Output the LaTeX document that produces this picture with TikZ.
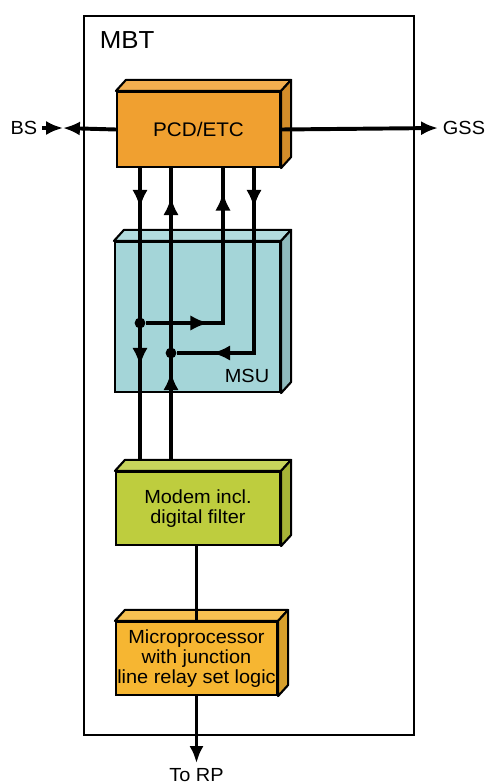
\documentclass[tikz,border=0pt]{standalone}
\usepackage{fontspec}
\setmainfont[FakeStretch=1.05]{Liberation Sans}
\usetikzlibrary{arrows.meta,decorations.markings}
\definecolor{pcdorange}{RGB}{240,160,48}
\definecolor{msublue}{RGB}{164,213,216}
\definecolor{modemgreen}{RGB}{190,205,62}
\definecolor{cpuyellow}{RGB}{246,182,50}
\newcommand{\solidbox}[2]{%
\draw[line width=1.5pt,line join=round,fill=#2!85!white] (#1.north west) -- ([shift={(10,-11)}]#1.north west)
	-- ([shift={(10,-11)}]#1.north east) -- (#1.north east) -- cycle;
\draw[line width=1.5pt,line join=round,fill=#2!88!black] (#1.north east) -- ([shift={(10,-11)}]#1.north east)
	-- ([shift={(10,-11)}]#1.south east) -- (#1.south east) -- cycle;}

\begin{document}
\begin{tikzpicture}[x=0.025cm,y=-0.025cm,
	block/.style={draw,line width=1.5pt,inner sep=0pt,align=center,font=\fontsize{13.5}{14.2}\selectfont},
	sig/.style={line width=2.8pt},
	sigarrow/.style={sig,-{Latex[length=12pt,width=10pt]}},
	midtips/.style 2 args={decoration={markings,
		mark=at position #1 with {\arrow{Latex[length=13pt,width=11pt]}},
		mark=at position #2 with {\arrow{Latex[length=13pt,width=11pt]}}},postaction={decorate}},
	dot/.style={circle,fill,inner sep=0pt,minimum size=0.27cm},
	lbl/.style={font=\fontsize{13.5}{14.2}\selectfont}]
\useasboundingbox (0,0) rectangle (486,783);
\draw[line width=1.1pt] (84,16) rectangle (414,735);
\node(MBT) [anchor=west,font=\fontsize{17.5}{18}\selectfont] at (95,40) {MBT};

\node(MSU) [block,fill=msublue,minimum width=4.125cm,minimum height=3.75cm] at (197.5,317) {};
\solidbox{MSU}{msublue}
\node(MSUlbl) [lbl] at (247,376) {MSU};

\node(PCD) [block,fill=pcdorange,minimum width=4.075cm,minimum height=1.875cm,
	font=\fontsize{14}{15}\selectfont] at (198.5,129.5) {PCD/ETC};
\node(Modem) [block,fill=modemgreen,minimum width=4.1cm,minimum height=1.825cm] at (198,508.5)
	{Modem incl.\\digital filter};

\node(j1) [dot] at (140,323) {};
\node(j2) [dot] at (171,353) {};
\coordinate (k1) at (223,323);
\coordinate (k2) at (254,353);
\draw[sig,midtips={1cm}{4.95cm}] (PCD.south -| j1) -- (Modem.north -| j1);
\draw[sig,midtips={2.475cm}{6.85cm}] (Modem.north -| j2) -- (PCD.south -| j2);
\draw[sig,midtips={1.575cm}{5.2cm}] (j1) -- (k1) -- (PCD.south -| k1);
\draw[sig,midtips={1cm}{5.675cm}] (PCD.south -| k2) -- (k2) -- (j2);

\solidbox{PCD}{pcdorange}
\solidbox{Modem}{modemgreen}

\node(CPU) [block,fill=cpuyellow,minimum width=4.025cm,minimum height=1.825cm] at (196.5,658.5)
	{Microprocessor\\with junction\\line relay set logic};
\solidbox{CPU}{cpuyellow}
\draw[sig] (Modem.south -| CPU.north) -- (CPU.north);

\node(RP) [lbl,anchor=north] at (196.5,763) {To RP};
\draw[sigarrow] (CPU.south) -- (RP.north);

\node(BS) [lbl] at (24,128) {BS};
\node(GSS) [lbl,anchor=west] at (438,128) {GSS};
\coordinate (bsm) at (63,128);
\draw[sigarrow] (BS.east) -- (bsm);
\draw[sigarrow] (PCD.west) -- (bsm);
\draw[sigarrow] (PCD.east) -- (GSS.west);
\end{tikzpicture}
\end{document}
